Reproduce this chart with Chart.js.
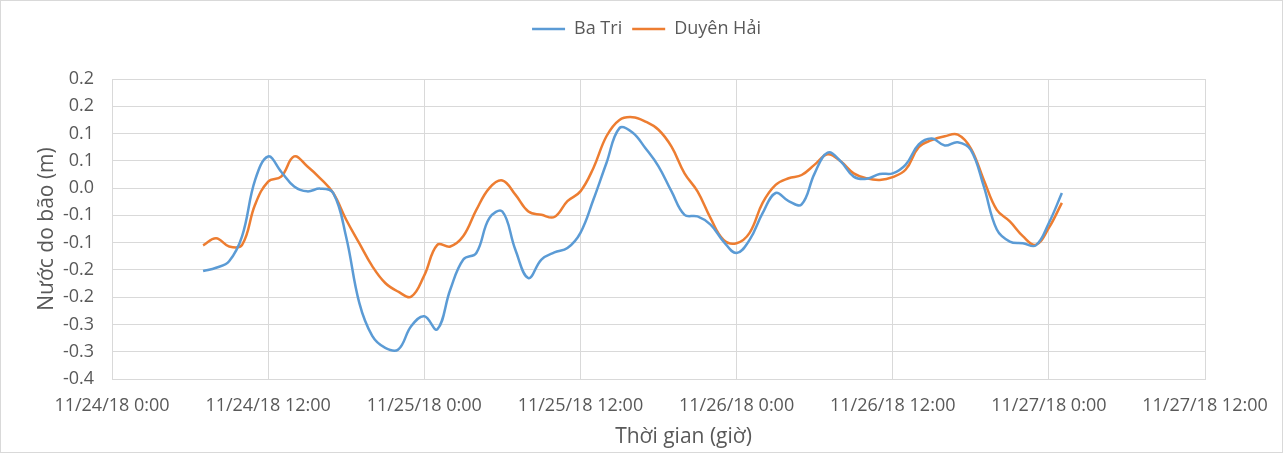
<!DOCTYPE html>
<html>
<head>
<meta charset="utf-8">
<script src="https://cdn.jsdelivr.net/npm/chart.js@4/dist/chart.umd.min.js"></script>
<style>
  html, body { margin: 0; padding: 0; background: #fff; }
  #wrap { width: 1287px; height: 456px; position: relative; }
</style>
</head>
<body>
<div id="wrap"><canvas id="myChart" width="1287" height="456"></canvas></div>
<script>
// hours since 11/24/18 0:00
const hours = [7, 8, 9, 10, 11, 12, 13, 14, 15, 16, 17, 18, 19, 20, 21, 22, 23, 24, 25, 26,
  27, 28, 29, 30, 31, 32, 33, 34, 35, 36, 37, 38, 39, 40, 41, 42, 43, 44, 45, 46,
  47, 48, 49, 50, 51, 52, 53, 54, 55, 56, 57, 58, 59, 60, 61, 62, 63, 64, 65, 66,
  67, 68, 69, 70, 71, 72, 73];

const baTri = [-0.152, -0.146, -0.134, -0.088, 0.015, 0.058, 0.030, 0.003, -0.006, -0.001,
  -0.009, -0.090, -0.210, -0.271, -0.293, -0.296, -0.253, -0.235, -0.259, -0.186,
  -0.131, -0.119, -0.055, -0.043, -0.113, -0.165, -0.131, -0.118, -0.110, -0.082,
  -0.021, 0.046, 0.110, 0.102, 0.073, 0.040, -0.006, -0.049, -0.052, -0.067,
  -0.098, -0.119, -0.095, -0.046, -0.009, -0.024, -0.030, 0.027, 0.065, 0.049,
  0.021, 0.017, 0.026, 0.027, 0.043, 0.080, 0.091, 0.078, 0.084, 0.070,
  0.003, -0.076, -0.098, -0.101, -0.105, -0.064, -0.009];

const duyenHai = [-0.105, -0.092, -0.107, -0.104, -0.030, 0.012, 0.021, 0.058, 0.040, 0.018,
  -0.009, -0.058, -0.101, -0.143, -0.174, -0.190, -0.199, -0.160, -0.104, -0.107,
  -0.088, -0.040, 0.000, 0.014, -0.012, -0.043, -0.049, -0.053, -0.024, -0.006,
  0.037, 0.095, 0.125, 0.130, 0.122, 0.107, 0.076, 0.027, -0.006, -0.055,
  -0.095, -0.101, -0.082, -0.027, 0.006, 0.018, 0.024, 0.043, 0.062, 0.049,
  0.027, 0.018, 0.015, 0.020, 0.034, 0.075, 0.088, 0.095, 0.098, 0.073,
  0.015, -0.040, -0.061, -0.088, -0.104, -0.073, -0.027];

const xTickValues = [0, 12, 24, 36, 48, 60, 72, 84];
const xTickLabels = ['11/24/18 0:00', '11/24/18 12:00', '11/25/18 0:00', '11/25/18 12:00',
  '11/26/18 0:00', '11/26/18 12:00', '11/27/18 0:00', '11/27/18 12:00'];

const yTickValues = [-0.35, -0.3, -0.25, -0.2, -0.15, -0.1, -0.05, 0, 0.05, 0.1, 0.15, 0.2];
const yTickLabels = ['-0.4', '-0.3', '-0.3', '-0.2', '-0.2', '-0.1', '-0.1', '0.0', '0.1', '0.1', '0.2', '0.2'];

const gridCol = '#d9d9d9';
const textCol = '#595959';
const fontFam = "'Open Sans', 'Noto Sans', sans-serif";

const toPoints = (ys) => hours.map((h, i) => ({ x: h, y: ys[i] }));

const frame = {
  id: 'frame',
  afterInit(chart) {
    const lg = chart.legend;
    if (lg) {
      const orig = lg.fit;
      lg.fit = function () { orig.call(this); this.height = 69; };
    }
  },
  afterLayout(chart) {
    // legend is centred on the whole chart, not only the plot width
    const lg = chart.legend;
    if (lg) { lg.left += 44; lg.right += 44; }
    // x title sits a bit right of the plot centre in the original
    const sx = chart.scales.x;
    if (sx && !sx._shifted) {
      const origTitle = sx.drawTitle;
      sx.drawTitle = function () {
        this.ctx.save();
        this.ctx.translate(25, 0);
        origTitle.call(this);
        this.ctx.restore();
      };
      sx._shifted = true;
    }
  },
  beforeDraw(chart) {
    const c = chart.ctx;
    c.save();
    c.fillStyle = '#fff';
    c.fillRect(0, 0, chart.width, chart.height);
    c.strokeStyle = gridCol;
    c.lineWidth = 1;
    c.strokeRect(0.5, 0.5, 1282, 452);
    c.restore();
  }
};

const ctx = document.getElementById('myChart').getContext('2d');
const myChart = new Chart(ctx, {
  type: 'line',
  data: {
    datasets: [{
      label: 'Ba Tri',
      data: toPoints(baTri),
      borderColor: '#5B9BD5',
      backgroundColor: '#5B9BD5',
      borderWidth: 2.5,
      pointRadius: 0,
      tension: 0.4
    }, {
      label: 'Duyên Hải',
      data: toPoints(duyenHai),
      borderColor: '#ED7D31',
      backgroundColor: '#ED7D31',
      borderWidth: 2.5,
      pointRadius: 0,
      tension: 0.4
    }]
  },
  options: {
    responsive: false,
    animation: false,
    layout: { padding: { top: 10, right: 82, left: 0, bottom: 0 } },
    plugins: {
      legend: {
        position: 'top',
        labels: {
          usePointStyle: true,
          pointStyle: 'line',
          pointStyleWidth: 33,
          boxHeight: 3,
          padding: 10,
          color: textCol,
          font: { family: fontFam, size: 18 }
        }
      },
      tooltip: { enabled: false }
    },
    scales: {
      x: {
        type: 'linear',
        min: 0,
        max: 84,
        afterBuildTicks(scale) { scale.ticks = xTickValues.map(v => ({ value: v })); },
        afterFit(scale) { scale.height = 77; },
        ticks: {
          autoSkip: false,
          maxRotation: 0,
          padding: 16,
          color: textCol,
          font: { family: fontFam, size: 18 },
          callback: (v, i) => xTickLabels[i]
        },
        grid: { color: gridCol, drawTicks: false },
        border: { color: gridCol },
        title: {
          display: true,
          text: 'Thời gian (giờ)',
          color: textCol,
          font: { family: fontFam, size: 21 },
          padding: { top: 0, bottom: 6 }
        }
      },
      y: {
        min: -0.35,
        max: 0.2,
        afterBuildTicks(scale) { scale.ticks = yTickValues.map(v => ({ value: v })); },
        afterFit(scale) { scale.width = 112; },
        ticks: {
          padding: 18,
          color: textCol,
          font: { family: fontFam, size: 18 },
          callback: (v, i) => yTickLabels[i]
        },
        grid: { color: gridCol, drawTicks: false },
        border: { color: gridCol },
        title: {
          display: true,
          text: 'Nước do bão (m)',
          color: textCol,
          font: { family: fontFam, size: 21 },
          padding: { top: 34, bottom: 0 }
        }
      }
    }
  },
  plugins: [frame]
});
</script>
</body>
</html>
